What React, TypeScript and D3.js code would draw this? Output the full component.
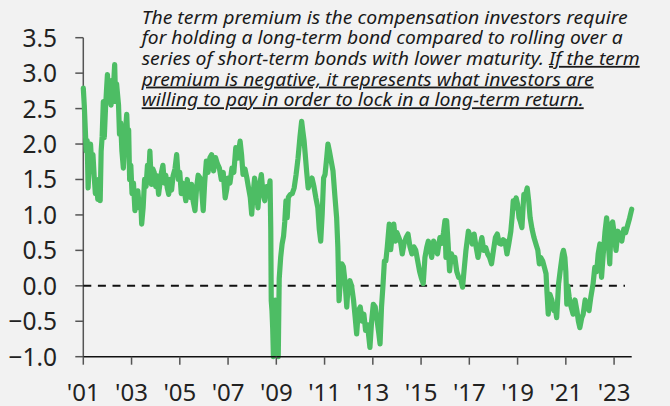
import React from "react";
import * as d3 from "d3";

const dates: number[] = [
  2001.00, 2001.04, 2001.08, 2001.12, 2001.16, 2001.20, 2001.25, 2001.30, 2001.35, 2001.40,
  2001.45, 2001.50, 2001.55, 2001.60, 2001.65, 2001.70, 2001.74, 2001.78, 2001.83, 2001.87,
  2001.92, 2001.96, 2002.00, 2002.05, 2002.10, 2002.15, 2002.20, 2002.25, 2002.30, 2002.34,
  2002.38, 2002.42, 2002.46, 2002.50, 2002.55, 2002.60, 2002.66, 2002.70, 2002.75, 2002.80,
  2002.84, 2002.88, 2002.92, 2002.97, 2003.02, 2003.08, 2003.14, 2003.20, 2003.26, 2003.32,
  2003.38, 2003.42, 2003.48, 2003.54, 2003.60, 2003.66, 2003.72, 2003.76, 2003.82, 2003.88,
  2003.94, 2004.00, 2004.06, 2004.12, 2004.18, 2004.24, 2004.30, 2004.36, 2004.42, 2004.48,
  2004.54, 2004.60, 2004.66, 2004.72, 2004.80, 2004.87, 2004.94, 2005.00, 2005.06, 2005.12,
  2005.18, 2005.25, 2005.31, 2005.37, 2005.43, 2005.49, 2005.55, 2005.63, 2005.70, 2005.76,
  2005.84, 2005.90, 2005.97, 2006.03, 2006.10, 2006.17, 2006.25, 2006.32, 2006.40, 2006.48,
  2006.56, 2006.64, 2006.72, 2006.80, 2006.88, 2006.94, 2007.00, 2007.08, 2007.16, 2007.24,
  2007.32, 2007.40, 2007.50, 2007.56, 2007.62, 2007.70, 2007.78, 2007.84, 2007.92, 2007.98,
  2008.04, 2008.10, 2008.17, 2008.24, 2008.30, 2008.38, 2008.45, 2008.52, 2008.60, 2008.68,
  2008.74, 2008.77, 2008.79, 2008.82, 2008.85, 2008.88, 2008.92, 2008.96, 2009.00, 2009.04,
  2009.08, 2009.12, 2009.18, 2009.24, 2009.30, 2009.35, 2009.40, 2009.45, 2009.50, 2009.58,
  2009.66, 2009.74, 2009.82, 2009.90, 2009.98, 2010.05, 2010.10, 2010.15, 2010.20, 2010.26,
  2010.32, 2010.40, 2010.48, 2010.56, 2010.64, 2010.72, 2010.78, 2010.84, 2010.90, 2010.96,
  2011.02, 2011.09, 2011.14, 2011.20, 2011.28, 2011.35, 2011.42, 2011.50, 2011.55, 2011.60,
  2011.66, 2011.72, 2011.78, 2011.85, 2011.92, 2011.98, 2012.05, 2012.12, 2012.20, 2012.27,
  2012.33, 2012.40, 2012.48, 2012.56, 2012.63, 2012.70, 2012.78, 2012.88, 2012.95, 2013.02,
  2013.10, 2013.18, 2013.24, 2013.30, 2013.36, 2013.42, 2013.48, 2013.54, 2013.60, 2013.68,
  2013.74, 2013.80, 2013.87, 2013.94, 2014.00, 2014.08, 2014.16, 2014.22, 2014.30, 2014.38,
  2014.46, 2014.54, 2014.62, 2014.70, 2014.78, 2014.86, 2014.94, 2015.02, 2015.09, 2015.16,
  2015.24, 2015.30, 2015.38, 2015.44, 2015.52, 2015.60, 2015.68, 2015.78, 2015.86, 2015.93,
  2015.99, 2016.03, 2016.06, 2016.12, 2016.18, 2016.26, 2016.33, 2016.40, 2016.48, 2016.56,
  2016.64, 2016.72, 2016.78, 2016.86, 2016.96, 2017.04, 2017.12, 2017.20, 2017.28, 2017.36,
  2017.44, 2017.52, 2017.60, 2017.68, 2017.76, 2017.84, 2017.92, 2018.00, 2018.08, 2018.16,
  2018.24, 2018.32, 2018.40, 2018.48, 2018.56, 2018.64, 2018.72, 2018.78, 2018.82, 2018.88,
  2018.94, 2019.00, 2019.06, 2019.12, 2019.18, 2019.26, 2019.34, 2019.40, 2019.46, 2019.52,
  2019.60, 2019.68, 2019.76, 2019.84, 2019.90, 2019.96, 2020.04, 2020.12, 2020.18, 2020.22,
  2020.27, 2020.34, 2020.42, 2020.50, 2020.56, 2020.62, 2020.70, 2020.78, 2020.86, 2020.90,
  2020.96, 2021.00, 2021.04, 2021.08, 2021.14, 2021.22, 2021.30, 2021.38, 2021.46, 2021.52,
  2021.58, 2021.66, 2021.72, 2021.80, 2021.88, 2021.96, 2022.04, 2022.13, 2022.20, 2022.28,
  2022.34, 2022.41, 2022.48, 2022.54, 2022.62, 2022.69, 2022.74, 2022.78, 2022.82, 2022.88,
  2022.94, 2023.00, 2023.08, 2023.16, 2023.24, 2023.32, 2023.40, 2023.48, 2023.56, 2023.64,
  2023.73,
];

const termPremium: number[] = [
  2.79, 2.55, 2.23, 1.90, 2.05, 1.38, 1.75, 2.00, 1.70, 1.85,
  1.55, 1.30, 1.45, 1.22, 1.50, 1.20, 1.90, 2.10, 2.60, 2.09,
  2.50, 2.75, 2.98, 2.70, 2.75, 2.55, 2.90, 2.80, 3.12, 2.60,
  2.85, 2.70, 2.55, 2.14, 2.30, 1.90, 1.66, 1.90, 2.20, 2.42,
  2.08, 2.20, 1.50, 1.70, 1.30, 1.45, 1.06, 1.25, 1.34, 1.10,
  1.20, 0.87, 1.10, 1.50, 1.40, 1.70, 1.60, 1.90, 1.43, 1.65,
  1.60, 1.40, 1.55, 1.29, 1.45, 1.60, 1.70, 1.45, 1.56, 1.38,
  1.29, 1.50, 1.35, 1.55, 1.65, 1.85, 1.50, 1.60, 1.30, 1.45,
  1.35, 1.20, 1.50, 1.30, 1.25, 1.43, 1.20, 1.06, 1.40, 1.56,
  1.52, 1.38, 1.06, 1.45, 1.76, 1.60, 1.81, 1.85, 1.62, 1.81,
  1.72, 1.66, 1.50, 1.60, 1.24, 1.35, 1.52, 1.45, 1.66, 1.60,
  1.95, 1.80, 2.04, 1.85, 1.57, 1.65, 1.52, 1.40, 1.25, 1.01,
  1.30, 1.52, 1.35, 1.10, 1.40, 1.57, 1.30, 1.20, 1.40, 1.30,
  1.48, 0.80, -0.21, -0.35, -0.60, -1.00, -0.40, -0.20, -0.30, -0.60,
  -1.00, 0.10, 0.40, 0.59, 0.70, 0.90, 1.20, 0.96, 1.25, 1.29,
  1.30, 1.38, 1.57, 1.80, 2.10, 2.32, 2.18, 2.05, 1.85, 1.60,
  1.38, 1.45, 1.52, 1.40, 1.24, 1.10, 0.80, 0.63, 1.00, 1.52,
  1.57, 1.81, 2.00, 1.90, 1.75, 1.62, 1.30, 0.96, 0.55, -0.21,
  0.10, 0.31, 0.27, 0.05, -0.30, 0.03, 0.07, 0.00, -0.20, -0.45,
  -0.68, -0.35, -0.30, -0.50, -0.40, -0.63, -0.55, -0.87, -0.50, -0.26,
  -0.30, -0.50, -0.65, -0.82, -0.30, 0.00, 0.35, 0.35, 0.55, 0.87,
  0.51, 0.70, 0.87, 0.63, 0.75, 0.68, 0.60, 0.45, 0.60, 0.68,
  0.73, 0.55, 0.45, 0.55, 0.50, 0.35, 0.20, 0.10, 0.03, 0.40,
  0.55, 0.63, 0.50, 0.40, 0.63, 0.55, 0.45, 0.68, 0.60, 0.75,
  0.92, 0.40, 0.92, 0.60, 0.21, 0.45, 0.35, 0.40, 0.20, 0.12,
  0.10, -0.02, 0.21, 0.50, 0.77, 0.70, 0.59, 0.73, 0.55, 0.40,
  0.55, 0.68, 0.50, 0.54, 0.45, 0.40, 0.31, 0.50, 0.68, 0.73,
  0.60, 0.59, 0.65, 0.63, 0.45, 0.60, 0.77, 1.00, 1.20, 1.10,
  1.24, 1.15, 0.96, 0.90, 0.82, 1.29, 1.30, 1.38, 1.20, 0.96,
  0.80, 0.68, 0.59, 0.50, 0.31, 0.40, 0.35, 0.25, 0.17, -0.10,
  -0.40, -0.12, -0.20, -0.35, -0.30, -0.45, 0.03, 0.25, 0.45, 0.50,
  0.40, 0.20, -0.26, 0.00, -0.16, -0.30, -0.40, -0.20, -0.35, -0.50,
  -0.59, -0.45, -0.40, -0.20, -0.30, -0.35, -0.15, 0.03, 0.26, 0.20,
  0.45, 0.59, 0.12, 0.40, 0.75, 0.96, 0.77, 0.50, 0.31, 0.87,
  0.90, 0.75, 0.50, 0.77, 0.70, 0.63, 0.80, 0.75, 0.85, 0.95,
  1.08,
];

const yTicks: number[] = [-1.0, -0.5, 0.0, 0.5, 1.0, 1.5, 2.0, 2.5, 3.0, 3.5];
const xTickYears: number[] = [2001, 2003, 2005, 2007, 2009, 2011, 2013, 2015, 2017, 2019, 2021, 2023];

const noteLines: { plain: string; under: string; len: number }[] = [
  { plain: "The term premium is the compensation investors require", under: "", len: 486 },
  { plain: "for holding a long-term bond compared to rolling over a", under: "", len: 481 },
  { plain: "series of short-term bonds with lower maturity. ", under: "If the term", len: 498 },
  { plain: "", under: "premium is negative, it represents what investors are", len: 452 },
  { plain: "", under: "willing to pay in order to lock in a long-term return.", len: 442 },
];

const W = 670;
const H = 406;
const FONT = "'Noto Sans', 'Open Sans', sans-serif";

export default function App() {
  const x = d3.scaleLinear().domain([2001, 2023.73]).range([83.3, 631.7]);
  const y = d3.scaleLinear().domain([-1, 3.5]).range([356.7, 37.7]);
  const pts = dates.map((d, i) => [d, termPremium[i]] as [number, number]);
  const line = d3
    .line<[number, number]>()
    .x((d) => x(d[0]))
    .y((d) => y(d[1]))
    .curve(d3.curveLinear);

  const x0 = x.range()[0];
  const x1 = x.range()[1];
  const yb = y.range()[0];
  const yt = y.range()[1];

  return (
    <svg
      width={W}
      height={H}
      viewBox={`0 0 ${W} ${H}`}
      style={{ position: "absolute", left: 0, top: 0, background: "#f2f2f2" }}
    >
      <rect x={0} y={0} width={W} height={H} fill="#f2f2f2" />
      <line x1={x0} x2={x0} y1={yt} y2={yb} stroke="#555" strokeWidth={1.5} />
      {yTicks.map((t) => (
        <g key={"y" + t}>
          <line x1={x0 - 8} x2={x0} y1={y(t)} y2={y(t)} stroke="#555" strokeWidth={1.5} />
          <text
            x={57}
            y={y(t) + 9}
            textAnchor="end"
            fontFamily={FONT}
            fontSize={24.5}
            fill="#222"
          >
            {d3.format(".1f")(t)}
          </text>
        </g>
      ))}
      <line
        x1={x0}
        x2={625}
        y1={y(0)}
        y2={y(0)}
        stroke="#111"
        strokeWidth={2}
        strokeDasharray="8,6.6"
      />
      <path
        d={line(pts) || ""}
        fill="none"
        stroke="#4dbd64"
        strokeWidth={5.2}
        strokeLinejoin="round"
        strokeLinecap="round"
      />
      <line x1={x0} x2={x1} y1={yb} y2={yb} stroke="#111" strokeWidth={1.5} />
      {xTickYears.map((t) => (
        <g key={"x" + t}>
          <line x1={x(t)} x2={x(t)} y1={yb} y2={yb + 8} stroke="#555" strokeWidth={1.5} />
          <text
            x={x(t)}
            y={401}
            textAnchor="middle"
            fontFamily={FONT}
            fontSize={24}
            fill="#222"
          >
            {"'" + String(t).slice(2)}
          </text>
        </g>
      ))}
      {noteLines.map((l, i) => (
        <text
          key={"n" + i}
          x={141.7}
          y={23.5 + i * 20.7}
          fontFamily={FONT}
          fontStyle="italic"
          fontSize={18}
          fill="#1a1a1a"
          textLength={l.len}
          lengthAdjust="spacingAndGlyphs"
        >
          {l.plain ? <tspan>{l.plain}</tspan> : null}
          {l.under ? <tspan textDecoration="underline">{l.under}</tspan> : null}
        </text>
      ))}
    </svg>
  );
}
